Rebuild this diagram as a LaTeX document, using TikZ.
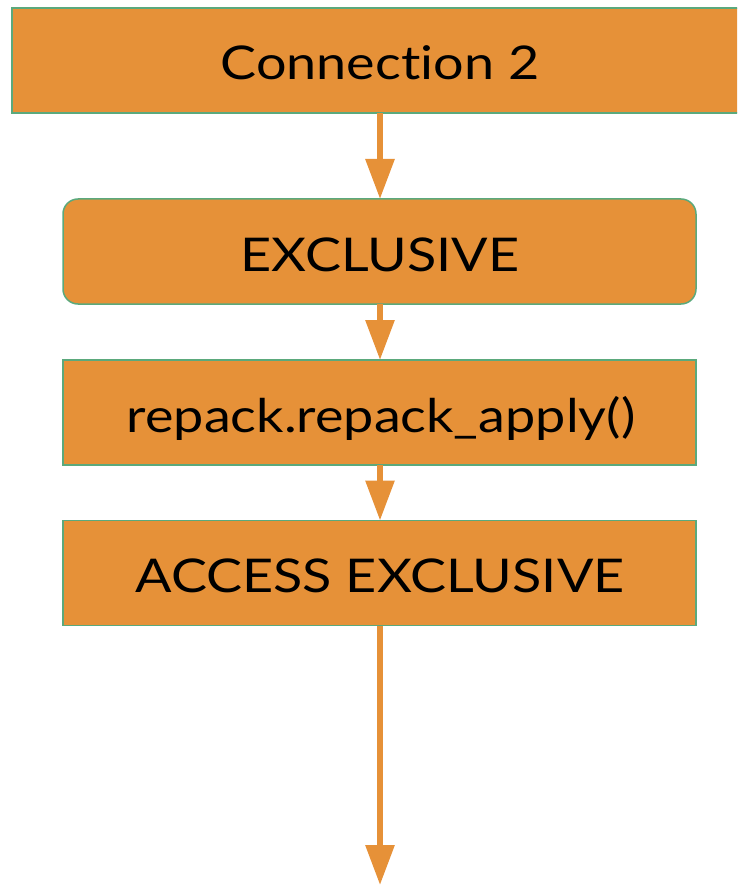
\documentclass[tikz,border=0pt]{standalone}
\usepackage{fontspec}
\setmainfont[Ligatures=NoCommon, FakeStretch=1.16]{Lato}
\usetikzlibrary{arrows.meta}
\definecolor{boxorange}{HTML}{E69138}
\definecolor{boxedge}{HTML}{5BA97C}
\tikzset{
  stagebox/.style={draw=boxedge, line width=1.5pt, fill=boxorange, inner sep=0pt, outer sep=0pt, minimum height=105pt},
  labeltext/.style={anchor=base, inner sep=0pt, font=\fontsize{46.5}{50}\selectfont, text=black},
  flowarrow/.style={draw=boxorange, line width=6pt, -{Triangle[width=28pt,length=40pt]}}
}
\begin{document}
\begin{tikzpicture}[x=1pt,y=-1pt]
\useasboundingbox (0,0) rectangle (737,885);
\begin{scope}
\clip (0,0) rectangle (737,885);
\node[stagebox, minimum width=736pt] (b1) at (380,60.5) {};
\end{scope}
\node[stagebox, minimum width=633pt, rounded corners=15pt] (b2) at (379.5,251.5) {};
\node[stagebox, minimum width=633pt] (b3) at (379.5,412.5) {};
\node[stagebox, minimum width=633pt] (b4) at (379.5,573) {};
\node[labeltext] (t1) at (380,79.5) {Connection 2};
\node[labeltext] (t2) at (380,271) {EXCLUSIVE};
\node[labeltext] (t3) at (381,432.5) {repack.repack\_apply()};
\node[labeltext] (t4) at (380,592) {ACCESS EXCLUSIVE};
\coordinate (end) at (380,885);
\draw[flowarrow] (b1.south -| end) -- (b2.north -| end);
\draw[flowarrow] (b2.south -| end) -- (b3.north -| end);
\draw[flowarrow] (b3.south -| end) -- (b4.north -| end);
\draw[flowarrow] (b4.south -| end) -- (end);
\end{tikzpicture}
\end{document}
